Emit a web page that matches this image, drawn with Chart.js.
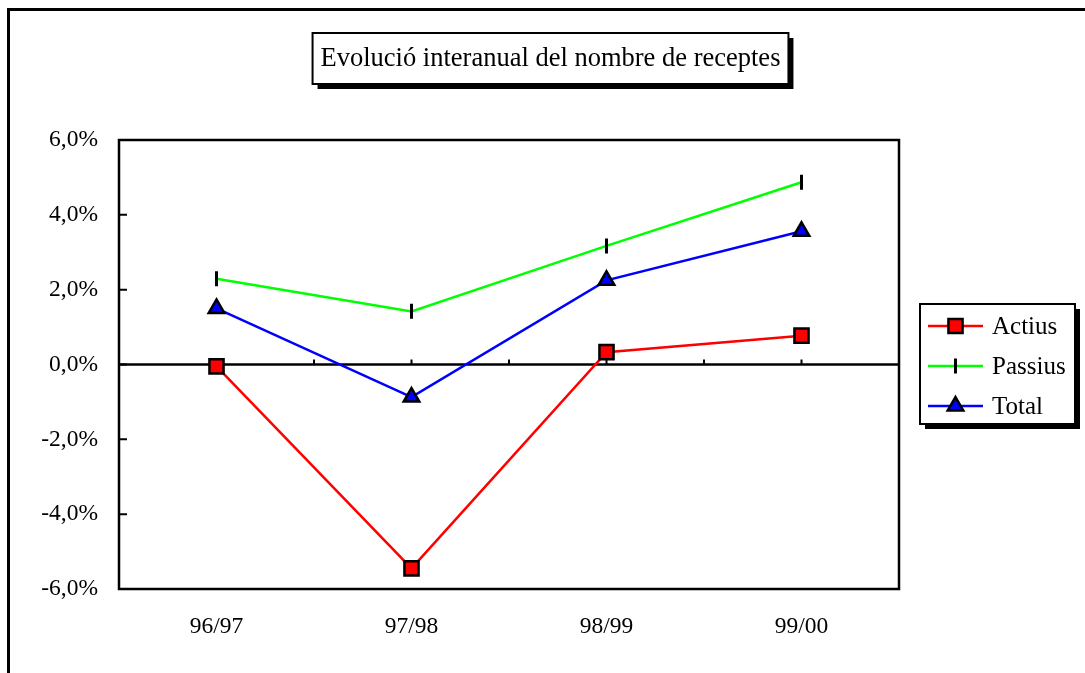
<!DOCTYPE html>
<html>
<head>
<meta charset="utf-8">
<title>Evolució interanual del nombre de receptes</title>
<script src="https://cdn.jsdelivr.net/npm/chart.js@4/dist/chart.umd.min.js"></script>
<style>
  html, body { margin: 0; padding: 0; background: #fff; overflow: hidden; }
  #chart { display: block; }
</style>
</head>
<body>
<canvas id="chart" width="1085" height="673"></canvas>
<script>
// ── Data ──
const categories = ['96/97', '97/98', '98/99', '99/00'];
const actius  = [-0.05, -5.45, 0.33, 0.77];
const passius = [2.29, 1.42, 3.17, 4.87];
const total   = [1.50, -0.87, 2.25, 3.56];
const yMin = -6, yMax = 6, yStep = 2;
const chartTitle = 'Evolució interanual del nombre de receptes';

const FONT = '"Liberation Serif", "Times New Roman", serif';

const fmtPct = v => v.toFixed(1).replace('.', ',') + '%';

// ── Frame, zero line and inward ticks (under the series) ──
const framePlugin = {
  id: 'frame',
  beforeDatasetsDraw(chart) {
    const { ctx, chartArea: a, scales: { x, y } } = chart;
    ctx.save();
    ctx.strokeStyle = '#000';

    // outer chart border (runs off the window at right and bottom)
    ctx.lineWidth = 3;
    ctx.beginPath();
    ctx.moveTo(8.5, chart.height + 10);
    ctx.lineTo(8.5, 9.5);
    ctx.lineTo(chart.width + 10, 9.5);
    ctx.stroke();

    // plot area
    ctx.lineWidth = 2.5;
    ctx.strokeRect(a.left, a.top, a.right - a.left, a.bottom - a.top);

    // zero line
    const y0 = y.getPixelForValue(0);
    ctx.beginPath();
    ctx.moveTo(a.left, y0);
    ctx.lineTo(a.right, y0);
    ctx.stroke();

    // ticks on the zero line, at centres and between categories
    const half = (x.getPixelForValue(1) - x.getPixelForValue(0)) / 2;
    ctx.lineWidth = 2;
    ctx.beginPath();
    categories.forEach((c, i) => {
      const cx = x.getPixelForValue(i);
      [cx, cx + half].forEach(px => {
        if (px >= a.right - 1) return;
        ctx.moveTo(px, y0);
        ctx.lineTo(px, y0 - 5);
      });
    });
    // inward ticks on the value axis
    for (let v = yMin + yStep; v < yMax; v += yStep) {
      const py = y.getPixelForValue(v);
      ctx.moveTo(a.left, py);
      ctx.lineTo(a.left + 8, py);
    }
    ctx.stroke();
    ctx.restore();
  },

  // ── Title box and legend box with drop shadows ──
  afterDraw(chart) {
    const { ctx } = chart;
    ctx.save();

    const shadowBox = (x, y, w, h) => {
      ctx.fillStyle = '#000';
      ctx.fillRect(x + 5, y + 5, w, h);
      ctx.fillStyle = '#fff';
      ctx.fillRect(x, y, w, h);
      ctx.lineWidth = 2;
      ctx.strokeStyle = '#000';
      ctx.strokeRect(x, y, w, h);
    };

    // title
    ctx.font = '26.5px ' + FONT;
    const tw = ctx.measureText(chartTitle).width;
    const bw = tw + 16;
    const cx = 550.5;
    shadowBox(cx - bw / 2, 33, bw, 51);
    ctx.fillStyle = '#000';
    ctx.textAlign = 'center';
    ctx.textBaseline = 'middle';
    ctx.fillText(chartTitle, cx, 59);

    // legend
    shadowBox(920, 304, 155, 120);
    ctx.font = '25px ' + FONT;
    ctx.textAlign = 'left';
    chart.data.datasets.forEach((ds, i) => {
      const ry = 326 + i * 40;
      ctx.strokeStyle = ds.borderColor;
      ctx.lineWidth = ds.borderWidth;
      ctx.beginPath();
      ctx.moveTo(928, ry);
      ctx.lineTo(983, ry);
      ctx.stroke();
      ctx.fillStyle = ds.pointBackgroundColor;
      ctx.strokeStyle = ds.pointBorderColor;
      ctx.lineWidth = ds.pointBorderWidth;
      Chart.helpers.drawPoint(ctx, {
        pointStyle: ds.pointStyle,
        radius: ds.pointRadius,
        rotation: ds.pointRotation || 0,
        borderWidth: ds.pointBorderWidth
      }, 955.5, ry);
      ctx.fillStyle = '#000';
      ctx.fillText(ds.label, 992, ry + 1);
    });
    ctx.restore();
  }
};

// ── Chart ──
new Chart(document.getElementById('chart').getContext('2d'), {
  type: 'line',
  data: {
    labels: categories,
    datasets: [
      {
        label: 'Actius',
        data: actius,
        borderColor: '#ff0000',
        borderWidth: 2.5,
        pointStyle: 'rect',
        pointRadius: 10,
        pointBackgroundColor: '#ff0000',
        pointBorderColor: '#000',
        pointBorderWidth: 2.5
      },
      {
        label: 'Passius',
        data: passius,
        borderColor: '#00ff00',
        borderWidth: 2.5,
        pointStyle: 'line',
        pointRotation: 90,
        pointRadius: 7.5,
        pointBackgroundColor: '#000',
        pointBorderColor: '#000',
        pointBorderWidth: 3
      },
      {
        label: 'Total',
        data: total,
        borderColor: '#0000ff',
        borderWidth: 2.5,
        pointStyle: 'triangle',
        pointRadius: 9,
        pointBackgroundColor: '#0000ff',
        pointBorderColor: '#000',
        pointBorderWidth: 2.5
      }
    ]
  },
  options: {
    responsive: false,
    animation: false,
    devicePixelRatio: 1,
    layout: { padding: { top: 140, right: 186, left: 0, bottom: 0 } },
    elements: { line: { tension: 0 } },
    plugins: {
      legend: { display: false },
      title: { display: false },
      tooltip: { enabled: false }
    },
    scales: {
      x: {
        offset: true,
        grid: { display: false },
        border: { display: false },
        ticks: { color: '#000', font: { family: FONT, size: 23.5 }, padding: 16 },
        afterFit: s => { s.height = 84; }
      },
      y: {
        min: yMin,
        max: yMax,
        grid: { display: false },
        border: { display: false },
        ticks: {
          stepSize: yStep,
          color: '#000',
          font: { family: FONT, size: 23.5 },
          padding: 13,
          callback: v => fmtPct(v)
        },
        afterFit: s => { s.width = 119; }
      }
    }
  },
  plugins: [framePlugin]
});
</script>
</body>
</html>
